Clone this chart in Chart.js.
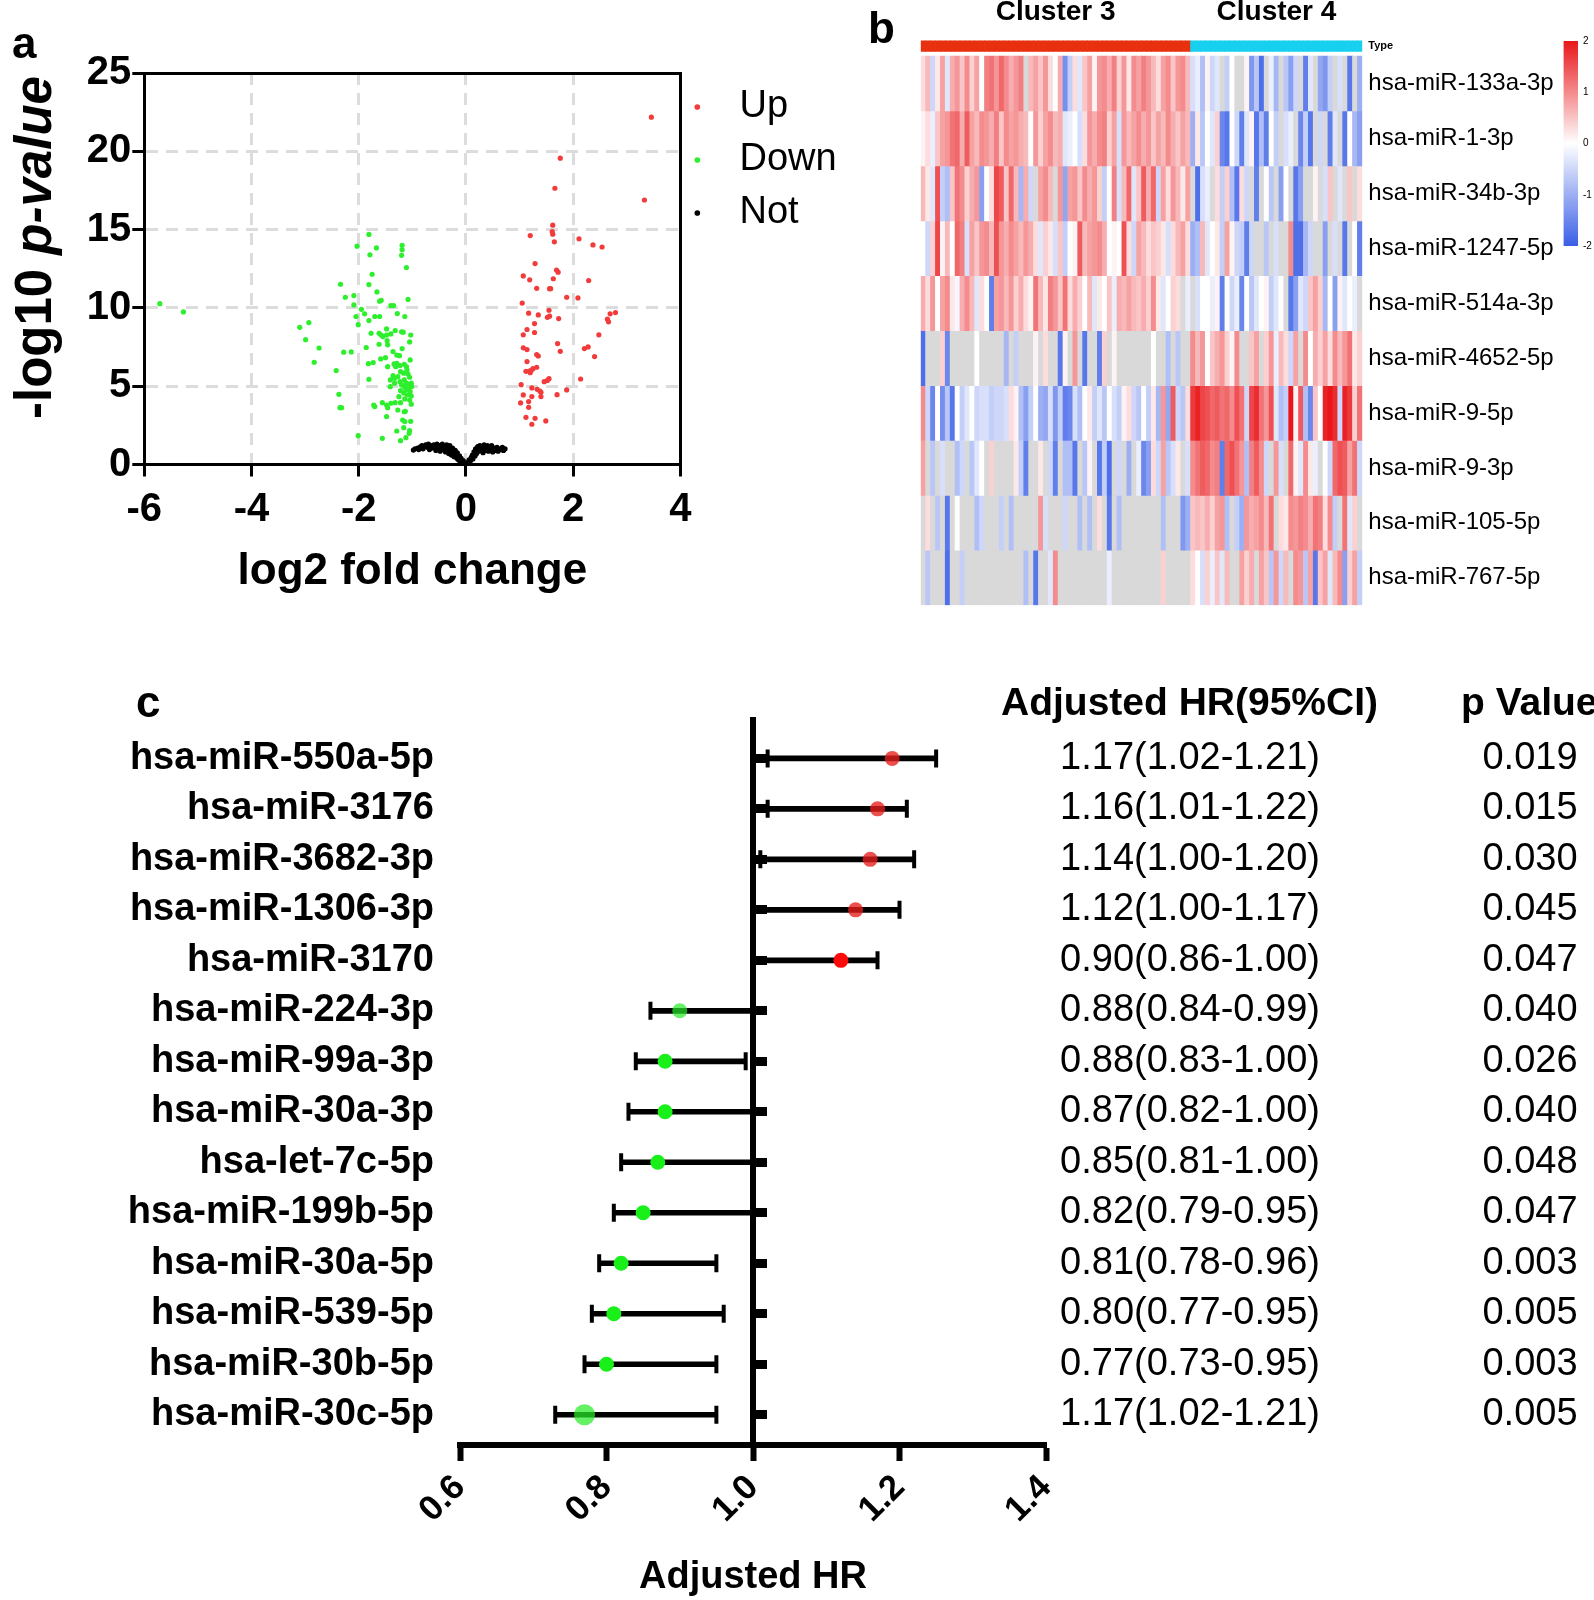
<!DOCTYPE html>
<html>
<head>
<meta charset="utf-8">
<script src="https://cdn.jsdelivr.net/npm/chart.js@4.4.0/dist/chart.umd.min.js"></script>
<style>
  body { margin: 0; background: #fff; width: 1594px; height: 1600px; position: relative; overflow: hidden;
         font-family: "Liberation Sans", Arial, sans-serif; }
  canvas { position: absolute; }
  .panel { position: absolute; font-weight: bold; font-size: 44px; line-height: 1; color: #000; }
</style>
</head>
<body>
<canvas id="volcano" width="880" height="640" style="left:0;top:0"></canvas>
<canvas id="heat" width="680" height="640" style="left:880px;top:0"></canvas>
<canvas id="scaleBar" width="39" height="230" style="left:1555px;top:30px"></canvas>
<canvas id="forest" width="1594" height="960" style="left:0;top:640px"></canvas>
<div class="panel" style="left:12px;top:21px">a</div>
<div class="panel" style="left:868px;top:6px">b</div>
<div class="panel" style="left:136px;top:680px">c</div>

<script>
const FAM = '"Liberation Sans", Arial, sans-serif';
Chart.defaults.font.family = FAM;
Chart.defaults.color = '#000';

// ---------- panel a: volcano ----------
const upPoints = [
  [3.46,22.18],[1.76,19.56],[1.66,17.64],[3.33,16.89],[1.62,15.28],[1.61,14.88],[1.62,14.71],[1.20,14.62],
  [1.65,14.22],[2.11,14.41],[2.37,14.02],[2.54,13.89],[1.29,12.83],[1.69,12.42],[1.72,12.28],[1.07,12.04],
  [1.19,11.79],[1.63,11.86],[2.29,11.75],[1.32,11.25],[1.56,11.23],[1.58,11.23],[1.88,10.68],[2.09,10.64],
  [1.05,10.31],[1.55,9.85],[1.17,9.66],[1.35,9.55],[1.52,9.40],[1.56,9.47],[1.73,9.32],[2.69,9.62],
  [2.79,9.70],[2.64,9.28],[2.66,9.11],[1.28,9.00],[1.14,8.62],[1.28,8.43],[1.07,8.28],[2.48,8.28],
  [1.71,7.72],[1.07,7.45],[1.14,7.34],[2.21,7.40],[2.28,7.51],[1.76,7.23],[1.32,7.02],[1.35,6.93],
  [2.40,6.89],[1.14,6.57],[1.12,5.95],[1.18,5.97],[1.22,6.02],[1.25,6.12],[1.32,6.21],[1.20,5.86],
  [1.52,5.37],[1.55,5.48],[1.46,5.29],[2.14,5.46],[1.03,5.10],[1.23,4.89],[1.33,4.80],[1.38,4.69],
  [1.40,4.61],[1.88,4.76],[1.07,4.44],[1.23,4.34],[1.40,4.34],[1.70,4.46],[1.17,4.02],[1.02,3.93],
  [1.17,3.65],[1.12,3.01],[1.29,2.95],[1.49,2.78],[1.23,2.57]
];
const downPoints = [
  [-5.71,10.27],[-5.27,9.74],
  [-1.81,14.69],[-2.03,13.94],[-1.67,13.83],[-1.79,13.39],[-1.19,14.00],[-1.19,13.72],[-1.20,13.36],
  [-1.11,12.58],[-1.75,12.15],[-2.34,11.51],[-1.81,11.49],[-1.66,11.02],[-2.25,10.68],[-2.09,10.79],
  [-1.58,10.49],[-1.61,10.43],[-1.08,10.54],[-2.09,10.19],[-1.95,9.91],[-1.40,10.15],[-1.35,10.15],
  [-1.89,9.62],[-2.05,9.45],[-1.70,9.45],[-1.61,9.45],[-1.28,9.64],[-1.14,9.45],[-1.81,9.19],
  [-2.01,8.93],[-3.10,8.76],[-2.93,9.06],[-1.48,8.66],[-1.32,8.55],[-1.20,8.47],[-1.17,8.45],
  [-1.77,8.38],[-1.62,8.38],[-1.58,8.27],[-1.55,8.17],[-1.48,8.27],[-1.40,8.34],[-1.03,8.27],
  [-2.99,7.97],[-1.47,7.91],[-1.05,7.83],[-1.62,7.68],[-1.46,7.64],[-2.74,7.44],[-1.86,7.47],
  [-1.19,7.40],[-2.28,7.17],[-2.14,7.19],[-1.36,7.21],[-1.29,6.99],[-1.24,6.95],[-1.59,6.74],
  [-1.50,6.82],[-1.04,6.68],[-2.83,6.53],[-1.82,6.44],[-1.73,6.51],[-1.34,6.42],[-1.29,6.46],
  [-1.23,6.32],[-1.15,6.40],[-1.11,6.25],[-1.31,6.25],[-1.46,6.25],[-2.42,6.00],[-1.22,5.93],
  [-1.16,5.83],[-1.08,5.78],[-1.10,6.04],[-1.05,5.57],[-1.36,5.67],[-1.27,5.61],[-1.41,5.40],
  [-1.33,5.50],[-1.81,5.44],[-1.23,5.29],[-1.15,5.40],[-1.11,5.19],[-1.07,5.08],[-1.02,5.19],
  [-1.20,5.08],[-1.15,4.98],[-1.06,4.87],[-1.01,4.98],[-1.12,4.77],[-1.04,4.66],[-1.16,4.56],
  [-1.09,4.45],[-1.02,4.38],[-1.22,4.72],[-1.41,4.97],[-1.33,5.19],[-2.37,4.48],[-1.25,4.33],
  [-1.14,4.19],[-1.05,4.12],[-1.02,3.85],[-2.35,3.63],[-2.32,3.63],[-1.72,3.80],[-1.70,3.70],
  [-1.56,3.95],[-1.48,3.80],[-1.40,3.91],[-1.32,3.95],[-1.22,3.95],[-1.46,3.63],[-1.27,3.48],
  [-1.15,3.37],[-1.13,3.40],[-1.48,3.06],[-1.18,2.84],[-1.14,2.74],[-1.03,2.76],[-1.16,2.35],
  [-1.05,2.16],[-1.06,1.99],[-1.29,2.14],[-1.12,1.71],[-1.22,1.52],[-2.01,1.84],[-1.56,1.67]
];
const notPoints = [
  [-0.98,0.92],[-0.95,1.00],[-0.90,1.05],[-0.88,0.95],[-0.85,1.12],[-0.82,1.20],[-0.80,1.00],[-0.78,1.15],
  [-0.75,1.25],[-0.72,1.10],[-0.70,1.30],[-0.68,0.95],[-0.66,1.20],[-0.63,1.05],[-0.60,1.25],[-0.58,1.15],
  [-0.56,0.90],[-0.54,1.30],[-0.52,1.05],[-0.50,1.20],[-0.48,0.85],[-0.46,1.10],[-0.44,1.30],[-0.42,0.95],
  [-0.40,1.15],[-0.38,0.80],[-0.36,1.25],[-0.34,1.00],[-0.32,0.70],[-0.30,1.20],[-0.29,0.90],[-0.27,0.60],
  [-0.25,1.05],[-0.24,0.80],[-0.22,0.50],[-0.20,0.90],[-0.19,0.65],[-0.17,0.40],[-0.16,0.75],[-0.14,0.30],
  [-0.12,0.55],[-0.11,0.20],[-0.09,0.40],[-0.07,0.15],[-0.05,0.25],[-0.03,0.08],[-0.02,0.02],
  [0.02,0.05],[0.04,0.15],[0.06,0.30],[0.08,0.20],[0.10,0.45],[0.12,0.60],[0.13,0.35],[0.15,0.80],
  [0.17,0.55],[0.18,1.00],[0.20,0.70],[0.22,1.15],[0.24,0.85],[0.26,1.20],[0.28,0.95],[0.30,1.10],
  [0.32,0.75],[0.34,1.25],[0.36,0.90],[0.38,1.05],[0.40,1.20],[0.42,0.85],[0.44,1.10],[0.46,0.95],
  [0.48,1.20],[0.50,0.80],[0.53,1.05],[0.55,0.90],[0.58,1.10],[0.60,0.85],[0.62,1.00],[0.65,0.95],
  [0.68,1.10],[0.70,0.90],[0.73,1.00]
];
const volcanoLegend = ['Up', 'Down', 'Not'];

// ---------- panel b: heatmap ----------
const N = null;
const clusterNames = ['Cluster 3', 'Cluster 4'];
const heatRows = ['hsa-miR-133a-3p', 'hsa-miR-1-3p', 'hsa-miR-34b-3p', 'hsa-miR-1247-5p', 'hsa-miR-514a-3p',
                  'hsa-miR-4652-5p', 'hsa-miR-9-5p', 'hsa-miR-9-3p', 'hsa-miR-105-5p', 'hsa-miR-767-5p'];
const cluster3 = [
  [0.3,0.6,-0.5,0.2,0.8,-0.3,0.7,0.9,0.5,1.0,0.4,0.8,0.0,1.1,1.2,0.9,1.3,1.0,0.7,0.9,1.1,N,0.6,0.8,0.5,0.9,0.3,0.0,0.7,-1.4,
   -0.6,0.3,-0.3,0.5,0.8,0.1,0.9,1.0,0.7,1.1,0.4,0.9,0.2,1.0,0.8,1.1,0.9,0.6,0.3,0.8,1.0,0.5,0.9,1.0,0.6],
  [0.1,0.3,-0.2,0.5,0.8,0.9,1.2,1.3,0.7,1.4,0.8,0.6,1.0,0.9,0.7,1.1,0.5,1.0,0.8,0.9,0.7,0.6,0.0,0.9,0.4,0.8,1.0,0.6,0.7,-0.3,
   -0.2,0.0,-0.4,0.3,0.9,0.7,1.0,1.1,0.4,0.8,-0.4,0.9,0.6,0.8,1.0,0.7,0.9,0.5,0.8,0.6,1.0,0.7,0.5,0.8,0.6],
  [0.6,0.2,-0.3,1.5,-0.6,-0.8,0.5,1.2,1.0,0.4,0.7,0.9,-1.2,0.0,0.3,1.6,1.4,0.5,1.3,0.6,-0.9,0.7,-0.5,N,0.8,1.0,0.6,N,0.9,-1.1,
   0.8,0.9,0.5,1.0,0.7,0.9,0.4,-0.6,0.0,1.1,-0.4,0.6,1.3,-0.3,0.5,1.4,0.7,1.3,-0.5,0.8,0.3,0.9,0.6,0.2,0.8],
  [0.0,-0.5,0.4,1.6,0.1,0.6,0.0,1.3,1.1,-0.4,0.8,0.5,0.9,1.0,0.6,1.5,0.9,0.7,1.0,0.8,0.6,0.9,0.7,0.3,-0.3,0.4,0.2,-0.4,0.5,-0.6,
   0.0,0.1,1.4,0.6,0.8,0.9,1.0,0.7,0.0,0.1,0.0,1.5,0.3,-0.5,0.8,0.6,0.3,0.5,0.4,0.2,-0.4,0.3,0.6,0.8,0.3],
  [0.7,0.3,0.9,0.0,0.8,1.0,0.2,-0.1,0.7,1.0,0.6,-0.3,0.3,0.0,-1.6,0.8,0.9,0.6,0.9,0.4,0.7,0.3,0.1,1.2,0.6,0.2,1.1,0.9,0.5,1.2,
   0.3,0.7,0.4,0.0,0.6,-0.3,0.2,0.0,0.5,-0.2,0.7,0.6,0.8,0.6,0.5,0.7,0.4,1.0,0.2,-0.3,0.0,0.4,0.3,N,-0.2],
  [-1.8,N,N,N,0.4,-1.5,N,N,N,N,N,0.0,N,N,N,N,N,-0.9,N,-0.6,N,N,N,0.1,N,0.3,N,N,-1.7,0.1,
   N,0.9,N,-1.7,N,N,-1.6,0.4,N,0.1,N,N,N,N,N,N,N,0.0,N,N,-0.8,N,-0.7,N,N],
  [1.0,-0.5,-1.5,0.0,-1.4,-0.7,-1.7,0.0,-0.6,-0.3,0.0,-0.5,-0.4,-0.4,-0.6,-0.5,-0.5,-0.4,0.3,0.1,-0.8,-1.2,-0.6,0.0,-1.0,-1.1,-0.4,-1.3,-0.6,-1.6,
   -1.5,-0.4,-0.8,0.0,0.2,-0.6,-0.3,-0.7,0.0,-0.4,-0.6,0.1,0.3,-0.5,-0.7,0.0,-0.6,0.2,-0.9,0.9,-1.1,1.4,-0.5,-0.7,0.3],
  [0.8,N,-0.7,N,-0.4,N,N,-0.8,-0.5,N,-0.7,-0.3,0.0,N,0.4,N,N,N,N,0.2,-0.6,-1.6,N,N,0.2,N,-0.5,-1.6,N,-0.8,
   -0.8,-1.7,N,-0.7,0.1,N,-1.7,-0.6,-1.8,N,-0.5,N,-1.0,N,-0.2,-1.5,-1.2,0.3,-0.5,0.8,-0.7,-0.4,0.2,N,-0.4],
  [N,0.3,N,-0.7,N,-1.7,N,0.0,N,N,N,-0.8,-0.5,N,N,N,-0.6,N,-0.8,N,N,N,N,N,0.9,-0.4,N,N,N,-0.5,
   N,N,-0.8,N,-0.8,N,0.3,N,-1.7,N,-0.8,N,N,N,N,N,N,N,N,-0.8,N,N,N,-1.3,-1.0],
  [N,-0.7,N,N,N,-1.8,N,N,-0.6,N,N,N,N,N,N,N,N,N,N,N,N,-0.8,N,-1.7,N,N,-0.3,1.0,N,N,
   N,N,N,N,N,N,N,N,-0.2,N,N,N,N,N,N,N,N,N,N,0.4,N,N,N,N,N]
];
const cluster4 = [
  [-0.4,-0.2,-0.8,0.1,-0.5,-0.3,N,-0.6,0.0,N,N,0.1,-1.3,-0.7,-1.8,N,-0.2,-0.9,N,-0.7,-1.2,-0.5,N,-1.6,-0.3,N,-1.1,-1.3,-0.6,N,-0.4,N,-1.7,N,-1.0],
  [-1.0,0.2,-0.7,0.0,-0.3,0.4,-1.5,-1.7,0.0,-0.5,-1.6,-0.3,0.1,-1.7,-0.8,-1.6,0.0,-0.6,N,-0.4,-0.2,N,-1.5,-0.6,-1.7,N,-0.5,N,-1.6,-0.3,N,-1.7,0.0,-0.9,-1.2],
  [N,-1.8,-0.4,-0.2,N,0.3,-0.6,0.4,-0.8,-1.7,0.3,-0.5,N,-1.6,N,0.0,-0.7,N,-1.2,0.0,N,-1.7,-1.2,N,N,0.1,N,-0.4,0.5,N,-0.3,N,0.5,N,0.3],
  [-1.0,-0.8,0.6,-0.3,0.0,0.2,-0.6,0.8,0.1,-0.5,-0.6,-1.6,-0.5,N,N,-0.7,N,-0.4,N,N,1.0,-1.8,-1.8,-0.9,-0.5,N,N,-1.2,N,-0.4,N,-1.7,N,0.0,-1.6],
  [N,-0.4,0.0,0.0,-0.2,0.1,-1.6,0.0,-0.5,-0.2,-1.5,0.0,-0.7,-0.3,0.0,0.1,-0.6,-0.3,0.0,N,-1.7,-1.2,-0.3,-0.5,0.5,0.8,0.4,-0.9,0.0,-1.2,0.1,-0.3,0.0,-0.2,N],
  [1.0,0.6,0.9,0.0,0.5,0.7,0.9,0.4,0.1,1.0,N,N,0.5,0.8,N,0.4,0.9,-0.2,0.6,0.3,-0.5,0.8,N,1.0,0.0,0.7,0.4,0.8,0.3,1.0,0.6,0.9,1.2,0.2,0.4],
  [1.7,1.9,1.6,1.5,1.3,1.4,1.2,1.3,1.0,1.5,1.2,-0.5,1.6,1.8,1.2,0.9,1.5,-0.3,-0.8,-0.6,2.0,0.1,1.4,-0.8,-1.5,0.5,0.0,1.9,2.0,1.8,-0.5,1.9,1.7,0.4,1.2],
  [1.0,1.2,1.4,1.3,1.0,1.1,-1.6,1.3,1.5,1.2,0.9,-0.8,1.1,1.4,1.0,-0.5,N,0.9,-0.4,N,1.3,0.1,-0.3,1.0,0.2,-0.2,N,0.0,-0.5,1.3,1.5,1.4,0.8,1.2,-0.5],
  [0.5,0.6,0.5,0.7,0.4,0.8,0.9,-0.8,N,-0.6,-1.0,0.9,0.7,0.8,1.0,0.6,1.2,N,0.3,0.2,1.0,0.9,1.1,1.0,0.7,1.2,1.1,0.3,1.0,-0.6,N,1.2,-0.3,0.4,N],
  [0.3,0.0,-0.4,0.4,-0.2,0.5,-0.3,0.6,N,N,0.8,0.4,0.7,N,0.8,0.5,-0.7,0.9,-0.5,0.6,N,1.0,0.9,-0.7,0.8,-1.7,0.5,0.8,-0.3,0.6,1.0,-1.2,0.4,0.8,-0.6]
];
const legendMin = -2, legendMax = 2;

// ---------- panel c: forest plot ----------
const mirNames = ['hsa-miR-550a-5p', 'hsa-miR-3176', 'hsa-miR-3682-3p', 'hsa-miR-1306-3p', 'hsa-miR-3170',
                  'hsa-miR-224-3p', 'hsa-miR-99a-3p', 'hsa-miR-30a-3p', 'hsa-let-7c-5p', 'hsa-miR-199b-5p',
                  'hsa-miR-30a-5p', 'hsa-miR-539-5p', 'hsa-miR-30b-5p', 'hsa-miR-30c-5p'];
const hrPoint = [1.19, 1.17, 1.16, 1.14, 1.12, 0.90, 0.88, 0.88, 0.87, 0.85, 0.82, 0.81, 0.80, 0.77];
const hrLow   = [1.02, 1.02, 1.01, 1.00, 1.00, 0.86, 0.84, 0.83, 0.82, 0.81, 0.79, 0.78, 0.77, 0.73];
const hrHigh  = [1.25, 1.21, 1.22, 1.20, 1.17, 1.00, 0.99, 1.00, 1.00, 1.00, 0.95, 0.96, 0.95, 0.95];
const hrTicks = [0.6, 0.8, 1.0, 1.2, 1.4];
const tableHR = ['1.17(1.02-1.21)', '1.16(1.01-1.22)', '1.14(1.00-1.20)', '1.12(1.00-1.17)', '0.90(0.86-1.00)',
                 '0.88(0.84-0.99)', '0.88(0.83-1.00)', '0.87(0.82-1.00)', '0.85(0.81-1.00)', '0.82(0.79-0.95)',
                 '0.81(0.78-0.96)', '0.80(0.77-0.95)', '0.77(0.73-0.95)', '1.17(1.02-1.21)'];
const tableP = ['0.019', '0.015', '0.030', '0.045', '0.047', '0.040', '0.026', '0.040', '0.048', '0.047',
                '0.003', '0.005', '0.003', '0.005'];

// ================= volcano =================
const edgeTransparent = (lo, hi) => (c) =>
  (c.tick && (c.tick.value === lo || c.tick.value === hi)) ? 'rgba(0,0,0,0)' : '#dcdcdc';

const yTitle = {
  id: 'yTitle',
  afterDraw(chart) {
    const ctx = chart.ctx;
    ctx.save();
    ctx.translate(37, 419);
    ctx.rotate(-Math.PI / 2);
    ctx.fillStyle = '#000';
    ctx.textBaseline = 'middle';
    ctx.textAlign = 'left';
    ctx.font = 'bold 51px ' + FAM;
    ctx.fillText('-log10 ', 0, 0);
    const w = ctx.measureText('-log10 ').width;
    ctx.font = 'italic bold 51px ' + FAM;
    ctx.fillText('p-value', w, 0);
    ctx.restore();
  }
};

const dotSet = (label, data, color) => ({
  label: '  ' + label, data: data, backgroundColor: color, borderWidth: 0,
  pointRadius: 2.6, pointHoverRadius: 2.6, pointStyle: 'circle'
});

new Chart(document.getElementById('volcano'), {
  type: 'scatter',
  data: {
    datasets: [
      dotSet(volcanoLegend[0], upPoints, '#f23c3c'),
      dotSet(volcanoLegend[1], downPoints, '#2def2d'),
      dotSet(volcanoLegend[2], notPoints, '#000000')
    ]
  },
  options: {
    responsive: false, animation: false, devicePixelRatio: 1,
    layout: { padding: { top: 73, right: 33.4, left: 0, bottom: 0 } },
    plugins: {
      tooltip: { enabled: false },
      legend: {
        position: 'right', align: 'start', maxWidth: 200,
        labels: { usePointStyle: true, boxWidth: 4, boxHeight: 4, padding: 15, color: '#000',
                  font: { size: 38, family: FAM } }
      }
    },
    scales: {
      x: {
        type: 'linear', min: -6, max: 4,
        ticks: { stepSize: 2, color: '#000', padding: 9, font: { size: 40, weight: 'bold' } },
        grid: { color: edgeTransparent(-6, 4), lineWidth: 3, tickColor: '#000', tickWidth: 3, tickLength: 12 },
        border: { color: '#000', width: 3, dash: [12, 8] },
        title: { display: true, text: 'log2 fold change', color: '#000',
                 font: { size: 44, weight: 'bold' }, padding: { top: 0, bottom: 42 } },
        afterFit: (s) => { s.height = 175.5; }
      },
      y: {
        type: 'linear', min: 0, max: 25,
        ticks: { stepSize: 5, color: '#000', padding: 1, font: { size: 40, weight: 'bold' } },
        grid: { color: edgeTransparent(0, 25), lineWidth: 3, tickColor: '#000', tickWidth: 3, tickLength: 12 },
        border: { color: '#000', width: 3, dash: [12, 8] },
        afterFit: (s) => { s.width = 144.3; }
      },
      xTop: {
        type: 'linear', position: 'top', min: -6, max: 4,
        ticks: { display: false }, grid: { display: false, drawTicks: false },
        border: { color: '#000', width: 3 },
        afterFit: (s) => { s.height = 0; }
      },
      yRight: {
        type: 'linear', position: 'right', min: 0, max: 25,
        ticks: { display: false }, grid: { display: false, drawTicks: false },
        border: { color: '#000', width: 3 },
        afterFit: (s) => { s.width = 0; }
      }
    }
  },
  plugins: [yTitle]
});

// ================= heatmap =================
const RED = [232, 22, 26], BLUE = [58, 95, 230], NA_COLOR = '#d9d9d9';
function heatColor(v) {
  if (v === null) return NA_COLOR;
  const t = Math.min(Math.abs(v) / 2, 1);
  const end = v >= 0 ? RED : BLUE;
  const c = end.map((e) => Math.round(255 + (e - 255) * t));
  return 'rgb(' + c.join(',') + ')';
}
const n3 = cluster3[0].length, n4 = cluster4[0].length;
const colIndex = Array.from({ length: n3 + n4 }, (_, i) => i);
const TYPE_H = 0.2, GAP_H = 0.086, TOP_H = TYPE_H + GAP_H;

const heatSets = [
  { label: 'Type', data: colIndex.map(() => TYPE_H),
    backgroundColor: colIndex.map((i) => (i < n3 ? '#e8300f' : '#17d0f0')) },
  { label: 'gap', data: colIndex.map(() => GAP_H), backgroundColor: 'rgba(0,0,0,0)' }
].concat(heatRows.map((name, r) => {
  const vals = cluster3[r].concat(cluster4[r]);
  return { label: name, data: vals.map(() => 1), backgroundColor: vals.map(heatColor) };
}));
heatSets.forEach((d) => { d.barPercentage = 1; d.categoryPercentage = 1; d.borderWidth = 0; });

new Chart(document.getElementById('heat'), {
  type: 'bar',
  data: { labels: colIndex, datasets: heatSets },
  options: {
    responsive: false, animation: false, devicePixelRatio: 1,
    layout: { padding: { top: 0, left: 40.7, right: 0, bottom: 34.8 } },
    plugins: { legend: { display: false }, tooltip: { enabled: false } },
    scales: {
      x: {
        type: 'category', position: 'top', stacked: true,
        grid: { display: false, drawTicks: false }, border: { display: false },
        afterBuildTicks: (s) => { s.ticks = [{ value: Math.floor(n3 / 2) }, { value: n3 + Math.floor(n4 / 2) }]; },
        ticks: { autoSkip: false, maxRotation: 0, minRotation: 0, padding: 11.6, color: '#000',
                 font: { size: 28, weight: 'bold' },
                 callback: (v) => (v < n3 ? clusterNames[0] : clusterNames[1]) },
        afterFit: (s) => { s.height = 40.4; }
      },
      y: {
        type: 'linear', position: 'right', stacked: true, reverse: true,
        min: 0, max: TOP_H + heatRows.length,
        grid: { display: false, drawTicks: false }, border: { display: false },
        afterBuildTicks: (s) => {
          s.ticks = [{ value: TYPE_H / 2 }].concat(heatRows.map((_, i) => ({ value: TOP_H + i + 0.5 })));
        },
        ticks: { autoSkip: false, padding: 6, color: '#000',
                 font: (c) => (c.index === 0 ? { size: 11, weight: 'bold' } : { size: 24 }),
                 callback: (v, i) => (i === 0 ? 'Type' : heatRows[i - 1]) },
        afterFit: (s) => { s.width = 197.7; }
      }
    }
  }
});

// color key
new Chart(document.getElementById('scaleBar'), {
  type: 'bar',
  data: {
    labels: ['key'],
    datasets: [{
      data: [[legendMin, legendMax]], barPercentage: 1, categoryPercentage: 1, borderWidth: 0,
      backgroundColor: (c) => {
        const a = c.chart.chartArea;
        if (!a) return '#fff';
        const g = c.chart.ctx.createLinearGradient(0, a.bottom, 0, a.top);
        g.addColorStop(0, heatColor(legendMin));
        g.addColorStop(0.5, heatColor(0));
        g.addColorStop(1, heatColor(legendMax));
        return g;
      }
    }]
  },
  options: {
    responsive: false, animation: false, devicePixelRatio: 1,
    layout: { padding: { top: 9, left: 8.5, right: 0, bottom: 14 } },
    plugins: { legend: { display: false }, tooltip: { enabled: false } },
    scales: {
      x: { display: false },
      y: {
        position: 'right', min: legendMin, max: legendMax,
        ticks: { stepSize: 1, padding: 5, color: '#000', font: { size: 10 } },
        grid: { display: false, drawTicks: false }, border: { display: false },
        afterFit: (s) => { s.width = 16; }
      }
    }
  }
});

// ================= forest =================
const rowsY = mirNames.map((_, i) => i + 1);
const dotColors = ['rgba(232,30,30,0.78)', 'rgba(232,30,30,0.78)', 'rgba(232,30,30,0.78)', 'rgba(232,30,30,0.78)',
                   '#ff0a0a', 'rgba(40,235,40,0.7)', '#19f019', '#19f019', '#19f019', '#19f019', '#19f019',
                   '#19f019', '#19f019', 'rgba(40,235,40,0.72)'];
const dotRadius = rowsY.map((y) => (y === 14 ? 10.5 : 7.5));

const hrTable = {
  id: 'hrTable',
  afterDraw(chart) {
    const ctx = chart.ctx, ys = chart.scales.yLab;
    ctx.save();
    ctx.fillStyle = '#000';
    ctx.textBaseline = 'middle';
    const hy = ys.getPixelForValue(1) - 54;
    ctx.font = 'bold 39px ' + FAM;
    ctx.textAlign = 'left';
    ctx.fillText('Adjusted HR(95%CI)', 1001, hy);
    ctx.fillText('p Value', 1461, hy);
    ctx.font = '38px ' + FAM;
    ctx.textAlign = 'center';
    rowsY.forEach((v, i) => {
      const y = ys.getPixelForValue(v);
      ctx.fillText(tableHR[i], 1190, y);
      ctx.fillText(tableP[i], 1530, y);
    });
    ctx.restore();
  }
};

new Chart(document.getElementById('forest'), {
  type: 'scatter',
  data: {
    datasets: [
      { type: 'bar', indexAxis: 'y', xAxisID: 'x', yAxisID: 'yLab', order: 3,
        data: rowsY.map((y, i) => ({ x: [hrLow[i], hrHigh[i]], y: y })),
        backgroundColor: '#000', barThickness: 5, borderWidth: 0 },
      { type: 'scatter', xAxisID: 'x', yAxisID: 'yLab', order: 2,
        data: rowsY.flatMap((y, i) => [{ x: hrLow[i], y: y }, { x: hrHigh[i], y: y }]),
        pointStyle: 'line', rotation: 90, pointRadius: 9, pointHoverRadius: 9,
        borderColor: '#000', borderWidth: 4 },
      { type: 'scatter', xAxisID: 'x', yAxisID: 'yLab', order: 1,
        data: rowsY.map((y, i) => ({ x: hrPoint[i], y: y })),
        backgroundColor: dotColors, pointRadius: dotRadius, pointHoverRadius: dotRadius, borderWidth: 0 }
    ]
  },
  options: {
    responsive: false, animation: false, devicePixelRatio: 1,
    layout: { padding: { top: 79.5, right: 548, left: 0, bottom: 0 } },
    plugins: { legend: { display: false }, tooltip: { enabled: false } },
    scales: {
      x: {
        type: 'linear', position: 'bottom', min: 0.6, max: 1.4, offset: false,
        afterBuildTicks: (s) => { s.ticks = hrTicks.map((v) => ({ value: v })); },
        ticks: { minRotation: 45, maxRotation: 45, padding: 6, color: '#000',
                 font: { size: 35, weight: 'bold' }, callback: (v) => Number(v).toFixed(1) },
        grid: { drawOnChartArea: false, offset: false, tickLength: 16, tickWidth: 6, tickColor: '#000' },
        border: { color: '#000', width: 6 },
        title: { display: true, text: 'Adjusted HR', color: '#000', font: { size: 38, weight: 'bold' }, padding: 0 },
        afterFit: (s) => { s.height = 155; }
      },
      yLab: {
        type: 'linear', position: 'left', reverse: true, min: 0.23, max: 14.6, offset: false,
        afterBuildTicks: (s) => { s.ticks = rowsY.map((v) => ({ value: v })); },
        ticks: { autoSkip: false, padding: 26, color: '#000', font: { size: 38, weight: 'bold' },
                 callback: (v) => mirNames[v - 1] },
        grid: { display: false, drawTicks: false, offset: false }, border: { display: false },
        afterFit: (s) => { s.width = 460; }
      },
      yAx: {
        type: 'linear', position: { x: 1.0 }, reverse: true, min: 0.23, max: 14.6, offset: false,
        afterBuildTicks: (s) => { s.ticks = rowsY.map((v) => ({ value: v })); },
        ticks: { display: false },
        grid: { drawOnChartArea: false, drawTicks: true, offset: false, tickLength: -17, tickWidth: 9, tickColor: '#000' },
        border: { display: true, color: '#000', width: 6 }
      }
    }
  },
  plugins: [hrTable]
});
</script>
</body>
</html>
